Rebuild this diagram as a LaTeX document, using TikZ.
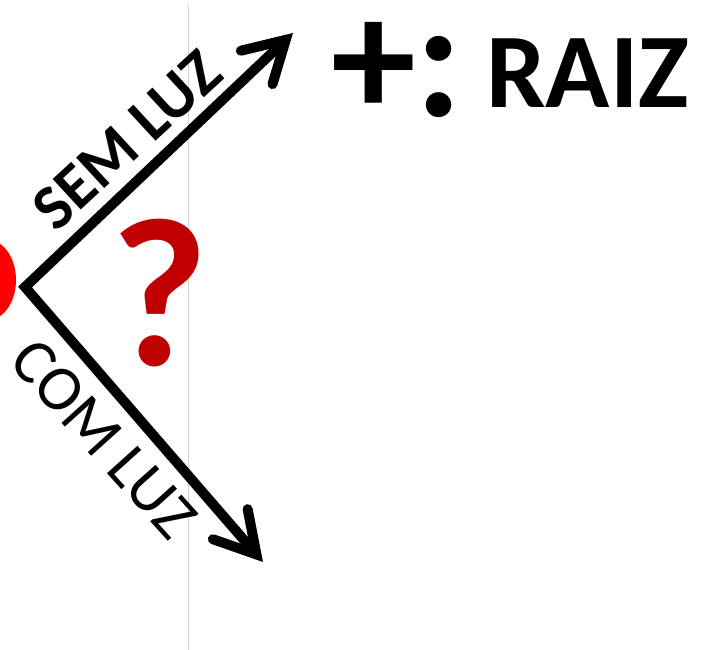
\documentclass[tikz,border=0pt]{standalone}
\usepackage{fontspec}
\setmainfont{Carlito}
\usetikzlibrary{arrows.meta}
\definecolor{qred}{RGB}{192,0,0}
\definecolor{brightred}{RGB}{255,0,0}
\definecolor{guide}{RGB}{212,212,212}
\begin{document}
\begin{tikzpicture}[x=1pt,y=-1pt,
  tipx/.tip={Straight Barb[length=40pt,width=46pt,line cap=round,line join=miter]},
  barb/.style={line width=10pt, tipx-tipx},
  lbl/.style={inner sep=0pt,font=\fontsize{64}{64}\selectfont},
  big/.style={anchor=base west,inner sep=0pt}]
\useasboundingbox (0,0) rectangle (702,650);
\clip (0,0) rectangle (702,650);
\fill[brightred] (-12,280) ellipse [x radius=28pt, y radius=40pt];
\draw[guide, line width=1pt] (188,5) -- (188,650);
\coordinate (t1) at (293,33);
\coordinate (v) at (25,287);
\coordinate (t2) at (263,562);
\draw[barb, line join=miter] (t1) -- (v) -- (t2);
\node[lbl, rotate=42.7, font=\bfseries\fontsize{64}{64}\selectfont] (sem) at (127,140) {SEM LUZ};
\node[lbl, rotate=-48] (com) at (104,439) {COM LUZ};
\node[big, text=qred, font=\bfseries\fontsize{212}{212}\selectfont] (q) at (110,365) {?};
\node[big, font=\bfseries\fontsize{170}{170}\selectfont] (pc) at (331,117) {+:};
\node[big, font=\bfseries\fontsize{106}{106}\selectfont] (raiz) at (486,108) {RAIZ};
\end{tikzpicture}
\end{document}
